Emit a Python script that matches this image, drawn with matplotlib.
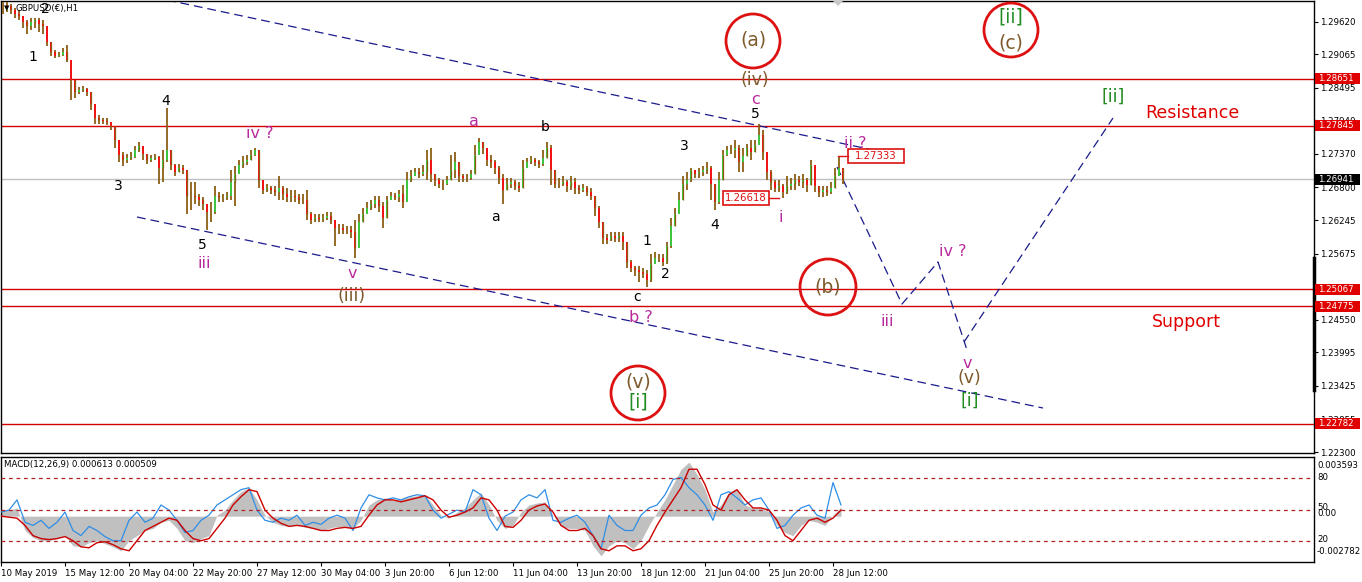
import matplotlib
matplotlib.use('Agg')
import matplotlib.pyplot as plt
from matplotlib.patches import Ellipse, Rectangle, Polygon
from matplotlib.lines import Line2D
import numpy as np

# ---------------- DATA ----------------
# 4-hour aggregated candles (x in trading hours, step 4)
close = [1.2982, 1.2989, 1.2982, 1.2975, 1.2972, 1.2962, 1.2955, 1.2962, 1.2965, 1.2958,
         1.2955, 1.2928, 1.2911, 1.2904, 1.2906, 1.2911, 1.2897, 1.2863, 1.2843, 1.2846,
         1.2848, 1.2843, 1.2822, 1.2798, 1.2795, 1.2793, 1.2792, 1.2785, 1.2761, 1.2736,
         1.2727, 1.2730, 1.2732, 1.2744, 1.2751, 1.2737, 1.2727, 1.2730, 1.2732, 1.2713,
         1.2727, 1.2744, 1.2718, 1.2707, 1.2713, 1.2710, 1.2666, 1.2666, 1.2663, 1.2659,
         1.2651, 1.2639, 1.2639, 1.2666, 1.2663, 1.2663, 1.2666, 1.2690, 1.2702, 1.2718,
         1.2724, 1.2727, 1.2736, 1.2744, 1.2693, 1.2676, 1.2679, 1.2676, 1.2673, 1.2679,
         1.2668, 1.2663, 1.2666, 1.2663, 1.2659, 1.2659, 1.2635, 1.2625, 1.2628, 1.2627,
         1.2628, 1.2632, 1.2625, 1.2611, 1.2611, 1.2608, 1.2608, 1.2605, 1.2577, 1.2622,
         1.2635, 1.2645, 1.2651, 1.2659, 1.2649, 1.2628, 1.2659, 1.2666, 1.2664, 1.2668,
         1.2656, 1.2693, 1.2700, 1.2707, 1.2703, 1.2707, 1.2727, 1.2702, 1.2693, 1.2686,
         1.2686, 1.2693, 1.2710, 1.2724, 1.2700, 1.2696, 1.2696, 1.2702, 1.2736, 1.2758,
         1.2747, 1.2727, 1.2724, 1.2713, 1.2696, 1.2676, 1.2686, 1.2690, 1.2683, 1.2679,
         1.2713, 1.2724, 1.2727, 1.2724, 1.2720, 1.2730, 1.2747, 1.2710, 1.2686, 1.2686,
         1.2690, 1.2683, 1.2690, 1.2679, 1.2676, 1.2679, 1.2673, 1.2666, 1.2645, 1.2622,
         1.2594, 1.2591, 1.2598, 1.2594, 1.2598, 1.2588, 1.2554, 1.2543, 1.2540, 1.2537,
         1.2533, 1.2523, 1.2550, 1.2560, 1.2560, 1.2554, 1.2581, 1.2615, 1.2635, 1.2659,
         1.2686, 1.2693, 1.2710, 1.2703, 1.2707, 1.2710, 1.2713, 1.2686, 1.2656, 1.2693,
         1.2736, 1.2744, 1.2744, 1.2747, 1.2724, 1.2734, 1.2747, 1.2741, 1.2753, 1.2769,
         1.2741, 1.2707, 1.2690, 1.2679, 1.2683, 1.2673, 1.2683, 1.2686, 1.2693, 1.2690,
         1.2693, 1.2684, 1.2718, 1.2683, 1.2673, 1.2676, 1.2673, 1.2679, 1.2700, 1.2713,
         1.26941]
high = [1.2996, 1.2996, 1.2992, 1.2985, 1.2982, 1.2972, 1.2965, 1.2968, 1.2968, 1.2968,
        1.2965, 1.2951, 1.2924, 1.2914, 1.2911, 1.2917, 1.2923, 1.2897, 1.2856, 1.2851,
        1.2853, 1.2849, 1.2843, 1.2822, 1.2803, 1.2798, 1.2798, 1.2792, 1.2785, 1.2761,
        1.2741, 1.2737, 1.2741, 1.2751, 1.2758, 1.2751, 1.2736, 1.2736, 1.2737, 1.2734,
        1.2744, 1.2815, 1.2744, 1.2720, 1.2720, 1.2718, 1.2710, 1.2690, 1.2690, 1.2668,
        1.2663, 1.2652, 1.2656, 1.2683, 1.2673, 1.2669, 1.2673, 1.2710, 1.2717, 1.2727,
        1.2734, 1.2736, 1.2744, 1.2747, 1.2744, 1.2686, 1.2686, 1.2683, 1.2683, 1.2700,
        1.2683, 1.2679, 1.2676, 1.2676, 1.2669, 1.2668, 1.2676, 1.2639, 1.2635, 1.2634,
        1.2635, 1.2639, 1.2639, 1.2625, 1.2618, 1.2617, 1.2615, 1.2615, 1.2625, 1.2634,
        1.2645, 1.2656, 1.2659, 1.2666, 1.2666, 1.2656, 1.2666, 1.2673, 1.2671, 1.2676,
        1.2684, 1.2707, 1.2710, 1.2713, 1.2713, 1.2718, 1.2744, 1.2747, 1.2703, 1.2696,
        1.2693, 1.2700, 1.2736, 1.2741, 1.2710, 1.2703, 1.2703, 1.2710, 1.2753, 1.2764,
        1.2758, 1.2747, 1.2736, 1.2727, 1.2717, 1.2702, 1.2696, 1.2696, 1.2693, 1.2690,
        1.2727, 1.2730, 1.2734, 1.2730, 1.2727, 1.2744, 1.2758, 1.2753, 1.2700, 1.2696,
        1.2700, 1.2693, 1.2700, 1.2696, 1.2684, 1.2686, 1.2683, 1.2679, 1.2666, 1.2649,
        1.2615, 1.2601, 1.2605, 1.2605, 1.2605, 1.2605, 1.2584, 1.2557, 1.2547, 1.2547,
        1.2543, 1.2540, 1.2566, 1.2571, 1.2567, 1.2566, 1.2588, 1.2628, 1.2645, 1.2673,
        1.2700, 1.2707, 1.2713, 1.2710, 1.2713, 1.2717, 1.2724, 1.2717, 1.2683, 1.2707,
        1.2744, 1.2751, 1.2753, 1.2761, 1.2753, 1.2747, 1.2754, 1.2761, 1.2761, 1.2788,
        1.2778, 1.2741, 1.2710, 1.2693, 1.2693, 1.2686, 1.2700, 1.2696, 1.2703, 1.2700,
        1.2703, 1.2696, 1.2727, 1.2713, 1.2683, 1.2683, 1.2683, 1.2690, 1.2713, 1.27333,
        1.2713]
low = [1.2975, 1.2979, 1.2975, 1.2968, 1.2965, 1.2951, 1.2941, 1.2948, 1.2951, 1.2945,
       1.2941, 1.2921, 1.2904, 1.2900, 1.2902, 1.2904, 1.2894, 1.2829, 1.2832, 1.2839,
       1.2843, 1.2836, 1.2812, 1.2788, 1.2788, 1.2788, 1.2786, 1.2778, 1.2747, 1.2724,
       1.2717, 1.2722, 1.2727, 1.2730, 1.2741, 1.2727, 1.2720, 1.2724, 1.2727, 1.2686,
       1.2690, 1.2724, 1.2710, 1.2700, 1.2707, 1.2702, 1.2634, 1.2642, 1.2651, 1.2649,
       1.2642, 1.2608, 1.2622, 1.2635, 1.2656, 1.2656, 1.2659, 1.2659, 1.2649, 1.2707,
       1.2713, 1.2718, 1.2727, 1.2734, 1.2679, 1.2668, 1.2673, 1.2669, 1.2666, 1.2659,
       1.2659, 1.2656, 1.2656, 1.2656, 1.2652, 1.2651, 1.2625, 1.2618, 1.2622, 1.2622,
       1.2622, 1.2625, 1.2618, 1.2581, 1.2601, 1.2601, 1.2601, 1.2594, 1.2560, 1.2591,
       1.2625, 1.2639, 1.2642, 1.2645, 1.2639, 1.2611, 1.2645, 1.2659, 1.2659, 1.2656,
       1.2645, 1.2659, 1.2690, 1.2700, 1.2696, 1.2700, 1.2693, 1.2690, 1.2683, 1.2679,
       1.2676, 1.2684, 1.2696, 1.2696, 1.2690, 1.2690, 1.2690, 1.2693, 1.2710, 1.2747,
       1.2737, 1.2717, 1.2713, 1.2703, 1.2686, 1.2652, 1.2676, 1.2679, 1.2676, 1.2673,
       1.2679, 1.2713, 1.2720, 1.2717, 1.2713, 1.2717, 1.2734, 1.2684, 1.2679, 1.2679,
       1.2683, 1.2673, 1.2676, 1.2668, 1.2669, 1.2673, 1.2666, 1.2659, 1.2632, 1.2611,
       1.2584, 1.2584, 1.2589, 1.2588, 1.2588, 1.2574, 1.2543, 1.2537, 1.2530, 1.2520,
       1.2526, 1.2511, 1.2520, 1.2550, 1.2554, 1.2547, 1.2550, 1.2577, 1.2615, 1.2635,
       1.2663, 1.2676, 1.2690, 1.2696, 1.2696, 1.2700, 1.2703, 1.2659, 1.2642, 1.2651,
       1.2693, 1.2734, 1.2737, 1.2730, 1.2707, 1.2707, 1.2737, 1.2727, 1.2744, 1.2753,
       1.2727, 1.2693, 1.2676, 1.2673, 1.2673, 1.26618, 1.2669, 1.2676, 1.2676, 1.2683,
       1.2679, 1.2673, 1.2690, 1.2673, 1.2663, 1.2663, 1.2666, 1.2669, 1.2690, 1.2700,
       1.2686]

# MACD panel values (every 8 trading hours)
macd_hist = [0.00037, 0.00037, 0.00050, -0.00087, -0.00130, -0.00149, -0.00149, -0.00136, -0.00118, -0.00180,
             -0.00186, -0.00161, -0.00149, -0.00167, -0.00186, -0.00210, -0.00149, -0.00118, -0.00087, -0.00074,
             -0.00037, -0.00025, -0.00074, -0.00149, -0.00161, -0.00136, -0.00118, 0.00006, 0.00037, 0.00099,
             0.00149, 0.00173, 0.00099, 0.00006, -0.00037, -0.00056, -0.00062, -0.00050, -0.00068, -0.00074,
             -0.00087, -0.00074, -0.00062, -0.00068, -0.00074, -0.00025, 0.00068, 0.00099, 0.00111, 0.00099,
             0.00105, 0.00118, 0.00124, 0.00130, 0.00068, 0.00006, -0.00012, 0.00025, 0.00050, 0.00099,
             0.00142, 0.00068, -0.00025, -0.00074, -0.00056, 0.00025, 0.00068, 0.00080, 0.00087, 0.00006,
             -0.00062, -0.00074, -0.00074, -0.00087, -0.00180, -0.00241, -0.00180, -0.00149, -0.00161, -0.00198,
             -0.00149, -0.00056, 0.00025, 0.00099, 0.00192, 0.00285, 0.00328, 0.00254, 0.00161, 0.00025,
             0.00068, 0.00149, 0.00161, 0.00068, 0.00050, 0.00050, 0.00025, -0.00056, -0.00099, -0.00118,
             -0.00056, -0.00025, -0.00037, -0.00056, 0.00006, 0.00056]
macd_signal = [0.00000, -0.00006, -0.00012, -0.00056, -0.00118, -0.00136, -0.00142, -0.00136, -0.00124, -0.00149,
               -0.00186, -0.00192, -0.00161, -0.00155, -0.00173, -0.00198, -0.00210, -0.00149, -0.00087, -0.00062,
               -0.00037, -0.00012, -0.00025, -0.00087, -0.00136, -0.00149, -0.00136, -0.00074, -0.00012, 0.00068,
               0.00118, 0.00161, 0.00149, 0.00037, -0.00012, -0.00043, -0.00062, -0.00056, -0.00062, -0.00074,
               -0.00087, -0.00087, -0.00074, -0.00068, -0.00074, -0.00062, 0.00006, 0.00068, 0.00099, 0.00099,
               0.00087, 0.00099, 0.00111, 0.00124, 0.00099, 0.00037, -0.00006, 0.00006, 0.00025, 0.00050,
               0.00111, 0.00099, 0.00037, -0.00062, -0.00068, -0.00025, 0.00037, 0.00062, 0.00074, 0.00025,
               -0.00056, -0.00087, -0.00087, -0.00074, -0.00118, -0.00198, -0.00210, -0.00180, -0.00180, -0.00210,
               -0.00198, -0.00149, -0.00056, 0.00025, 0.00099, 0.00173, 0.00285, 0.00285, 0.00192, 0.00068,
               0.00037, 0.00130, 0.00161, 0.00099, 0.00050, 0.00050, 0.00037, -0.00025, -0.00118, -0.00149,
               -0.00087, -0.00025, -0.00012, -0.00037, -0.00012, 0.00037]
osc_blue = [0.00025, 0.00037, 0.00099, -0.00037, -0.00056, -0.00025, -0.00074, -0.00037, 0.00025, -0.00087,
            -0.00118, -0.00062, -0.00087, -0.00124, -0.00149, -0.00149, -0.00025, 0.00025, -0.00037, -0.00012,
            0.00068, 0.00037, -0.00025, -0.00099, -0.00087, -0.00025, 0.00006, 0.00068, 0.00099, 0.00130,
            0.00161, 0.00173, 0.00037, -0.00025, -0.00037, -0.00012, -0.00025, 0.00006, -0.00056, -0.00037,
            -0.00050, -0.00012, 0.00006, -0.00012, -0.00087, 0.00050, 0.00130, 0.00111, 0.00099, 0.00111,
            0.00099, 0.00118, 0.00130, 0.00124, 0.00037, -0.00012, 0.00012, 0.00037, 0.00025, 0.00161,
            0.00130, -0.00012, -0.00087, 0.00000, 0.00025, 0.00099, 0.00130, 0.00111, 0.00161, -0.00025,
            -0.00037, -0.00012, 0.00006, -0.00037, -0.00118, -0.00198, 0.00006, -0.00056, -0.00087, -0.00087,
            0.00006, 0.00050, 0.00068, 0.00130, 0.00223, 0.00235, 0.00173, 0.00130, 0.00068, -0.00025,
            0.00130, 0.00149, 0.00111, 0.00068, 0.00099, 0.00111, 0.00037, -0.00074, -0.00056, 0.00006,
            0.00050, 0.00068, 0.00006, -0.00012, 0.00204, 0.00068]

date_labels = ['10 May 2019', '15 May 12:00', '20 May 04:00', '22 May 20:00', '27 May 12:00',
               '30 May 04:00', '3 Jun 20:00', '6 Jun 12:00', '11 Jun 04:00', '13 Jun 20:00',
               '18 Jun 12:00', '21 Jun 04:00', '25 Jun 20:00', '28 Jun 12:00']
date_hours = [0, 64, 128, 192, 256, 320, 384, 448, 512, 576, 640, 704, 768, 832]

price_ticks = [1.29620, 1.29065, 1.28495, 1.27940, 1.27370, 1.26800, 1.26245,
               1.25675, 1.25105, 1.24550, 1.23995, 1.23425, 1.22855, 1.22300]
red_levels = [1.28651, 1.27845, 1.25067, 1.24775, 1.22782]
bid_price = 1.26941

# analyst trend lines (hour, price)
upper_channel = [(166, 1.29988), (905, 1.27318)]
lower_channel = [(136, 1.26297), (1042, 1.23048)]
projection = [(836, 1.27148), (901, 1.24817), (937, 1.25532), (966, 1.24035)]
projection2 = [(963, 1.24171), (1112, 1.27981)]

# ---------------- FIGURE ----------------
W, H = 1362, 582
fig = plt.figure(figsize=(W / 100, H / 100), dpi=100)
fig.patch.set_facecolor('white')
plt.rcParams['font.family'] = ['DejaVu Sans']


def fx(px):
    return px / W


def fy(py):
    return 1 - py / H


ax = fig.add_axes([fx(1), fy(453), fx(1314) - fx(1), fy(1) - fy(453)])
mx = fig.add_axes([fx(1), fy(562), fx(1314) - fx(1), fy(457) - fy(562)])

XMAX = 1313
ax.set_xlim(0, XMAX)
ax.set_ylim(1.22283, 1.29971)

# horizontal levels
for lv in red_levels:
    ax.axhline(lv, color='#d40000', lw=1.0, zorder=1)
ax.axhline(bid_price, color='#c0c0c0', lw=1.0, zorder=1)

# candles
n = len(close)
xs = np.arange(n) * 4 + 2
opens = np.array([close[0]] + close[:-1])
closes = np.array(close)
ax.vlines(xs, low, high, color='#8b5e14', lw=1.3, zorder=3)
up = closes >= opens
body_h = closes - opens
ax.bar(xs[up], body_h[up], bottom=opens[up], width=2.6, color='#3ec43e', lw=0, zorder=4)
ax.bar(xs[~up], body_h[~up], bottom=opens[~up], width=2.6, color='#f01414', lw=0, zorder=4)
# brown centre stroke over bodies, like overlapping H1 bars
ax.vlines(xs[::2], np.minimum(opens, closes)[::2], np.maximum(opens, closes)[::2],
          color='#8b5e14', lw=0.9, zorder=5)

# dashed trend lines
for seg in (upper_channel, lower_channel, projection, projection2):
    sx = [p[0] for p in seg]
    sy = [p[1] for p in seg]
    ax.plot(sx, sy, color='#1a1a8c', lw=0.9, ls=(0, (7, 4)), zorder=2)

# axes styling
ax.set_xticks([])
ax.yaxis.tick_right()
ax.set_yticks(price_ticks)
ax.set_yticklabels(['%.5f' % t for t in price_ticks])
ax.tick_params(axis='y', direction='out', length=3, width=0.8, labelsize=6.2, pad=1.5, colors='black')
for s in ax.spines.values():
    s.set_color('black')
    s.set_linewidth(1.0)

# MACD panel
xm = np.arange(len(macd_hist)) * 8
mx.set_xlim(0, XMAX)
mx.set_ylim(-0.002782, 0.003593)
mx.fill_between(xm, 0, macd_hist, color='#c0c0c0', lw=0, zorder=1)
mx.plot(xm, osc_blue, color='#2f8ee6', lw=0.9, zorder=3)
mx.plot(xm, macd_signal, color='#cc0000', lw=1.0, zorder=4)
mx2 = mx.twinx()
mx2.set_ylim(0, 100)
for lv in (80, 50, 20):
    mx2.axhline(lv, color='#b22222', lw=0.9, ls=(0, (3, 3)))
mx2.set_yticks([])
for s in mx2.spines.values():
    s.set_visible(False)
mx.set_yticks([])
mx.set_xticks(date_hours)
mx.set_xticklabels(date_labels, ha='left')
mx.tick_params(axis='x', direction='out', length=3, width=0.8, labelsize=6.2, pad=2)
for s in mx.spines.values():
    s.set_color('black')
    s.set_linewidth(1.0)

# ---------------- TEXT / ANNOTATIONS ----------------
def txt(x, y, s, color, size, **kw):
    fig.text(fx(x), fy(y), s, color=color, fontsize=size, ha='center', va='center', **kw)


fig.text(fx(4), fy(8), '▼', fontsize=5, color='black', va='center', ha='left')
fig.text(fx(15), fy(8), 'GBPUSD(€),H1', fontsize=6.2, color='black', va='center', ha='left')
fig.text(fx(4), fy(465), 'MACD(12,26,9) 0.000613 0.000509', fontsize=6.2, color='black', va='center', ha='left')

black_labels = [(33, 57, '1'), (45, 9, '2'), (118, 186, '3'), (166, 101, '4'), (202, 245, '5'),
                (495, 217, 'a'), (545, 127, 'b'), (637, 297, 'c'), (647, 241, '1'), (665, 274, '2'),
                (684, 146, '3'), (715, 225, '4'), (755, 114, '5')]
for x, y, s in black_labels:
    txt(x, y, s, 'black', 10)

mag = '#b82a9c'
mag_labels = [(204, 264, 'iii'), (260, 134, 'iv ?'), (352, 273, 'v'), (474, 122, 'a'), (641, 318, 'b ?'),
              (755, 99, 'c'), (781, 218, 'i'), (855, 143, 'ii ?'), (887, 321, 'iii'), (953, 251, 'iv ?'),
              (967, 363, 'v')]
for x, y, s in mag_labels:
    txt(x, y, s, mag, 11.5)

brown = '#7e5a2c'
brown_labels = [(352, 296, '(iii)'), (755, 80, '(iv)'), (969, 378, '(v)')]
for x, y, s in brown_labels:
    txt(x, y, s, brown, 12.5)
for x, y, s in [(753, 40, '(a)'), (828, 287, '(b)'), (1011, 43, '(c)'), (638, 382, '(v)')]:
    txt(x, y, s, brown, 13.5)

green = '#228b22'
for x, y, s in [(638, 402, '[i]'), (1011, 17, '[ii]')]:
    txt(x, y, s, green, 13.5)
for x, y, s in [(1113, 97, '[ii]'), (970, 401, '[i]')]:
    txt(x, y, s, green, 12.5)

txt(1192, 113, 'Resistance', '#e00000', 12.5)
txt(1186, 322, 'Support', '#e00000', 12.5)

for cx, cy, r in [(753, 41, 27), (828, 287, 28), (1011, 30, 27), (638, 393, 27)]:
    e = Ellipse((fx(cx), fy(cy)), 2 * r / W, 2 * r / H, transform=fig.transFigure,
                fill=False, ec='#dd1111', lw=2.0, zorder=6)
    fig.add_artist(e)

# in-chart price boxes
def price_box(x0, x1, yc, s, leader):
    rect = Rectangle((fx(x0), fy(yc + 6.5)), (x1 - x0) / W, 13 / H, transform=fig.transFigure,
                     fc='white', ec='#dd1111', lw=1.2, zorder=7)
    fig.add_artist(rect)
    fig.text(fx((x0 + x1) / 2), fy(yc), s, fontsize=7.3, color='#dd1111', ha='center', va='center', zorder=8)
    fig.add_artist(Line2D([fx(leader[0]), fx(leader[1])], [fy(yc), fy(yc)], transform=fig.transFigure,
                          color='#dd1111', lw=1.0, zorder=7))


price_box(848, 904, 156, '1.27333', (838, 848))
price_box(723, 769, 198, '1.26618', (769, 779))

# right axis boxes
def axis_box(price, s, fc):
    yc = (1.29988 - price) / 0.00017009
    rect = Rectangle((fx(1315), fy(yc + 5.5)), 45 / W, 11 / H, transform=fig.transFigure,
                     fc=fc, ec='none', zorder=7)
    fig.add_artist(rect)
    fig.text(fx(1318.5), fy(yc), s, fontsize=6.2, color='white', ha='left', va='center', zorder=8)


for lv in red_levels:
    axis_box(lv, '%.5f' % lv, '#e00000')
axis_box(bid_price, '%.5f' % bid_price, 'black')

# MACD right labels
for y, s in [(465, '0.003593'), (478, '80'), (507, '50'), (513, '0.00'), (540, '20'), (552, '-0.002782')]:
    fig.text(fx(1317), fy(y), s, fontsize=6.2, color='black', ha='left', va='center')

# scroll bar marker on price axis and shift marker
fig.add_artist(Line2D([fx(1314), fx(1314)], [fy(258), fy(390)], transform=fig.transFigure,
                      color='black', lw=2.5, zorder=6))
fig.add_artist(Polygon([[fx(833), fy(1)], [fx(843), fy(1)], [fx(838), fy(6)]], closed=True,
                       transform=fig.transFigure, fc='#c8c8c8', ec='none', zorder=6))

fig.savefig('out.png', dpi=100, facecolor='white')
